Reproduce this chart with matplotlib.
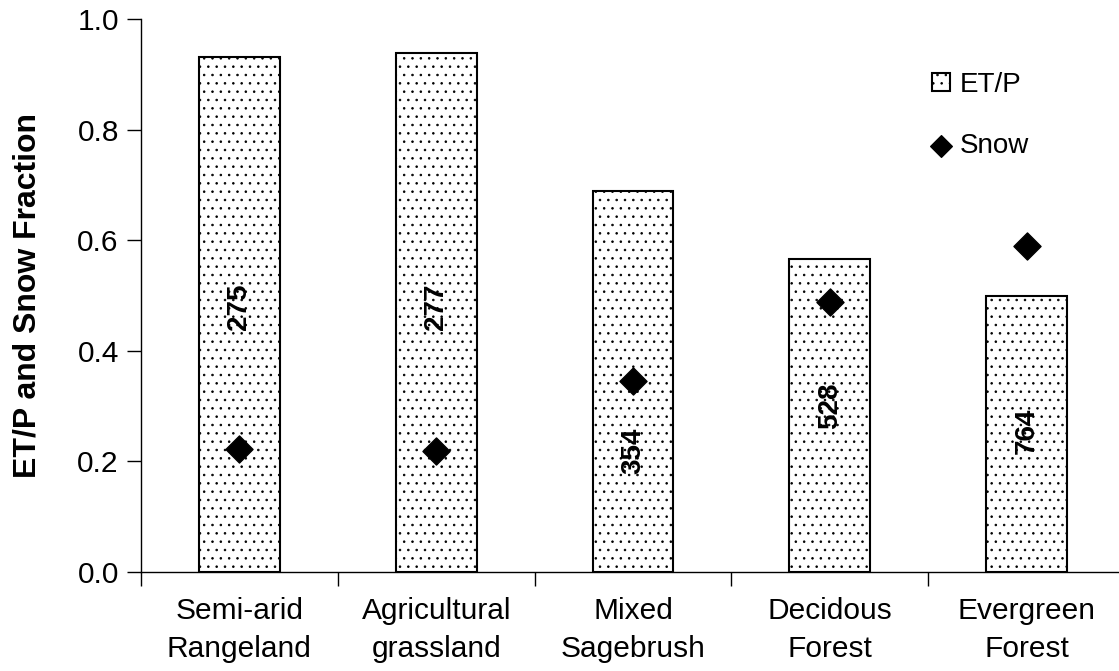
import matplotlib
matplotlib.use('Agg')
import matplotlib.pyplot as plt
import numpy as np

plt.rcParams['font.family'] = ['Liberation Sans', 'DejaVu Sans']
plt.rcParams['hatch.linewidth'] = 0.6

# data
categories = ['Semi-arid\nRangeland', 'Agricultural\ngrassland', 'Mixed\nSagebrush',
              'Decidous\nForest', 'Evergreen\nForest']
et_p = [0.932, 0.939, 0.690, 0.567, 0.500]
snow = [0.222, 0.219, 0.345, 0.488, 0.589]
precip_labels = ['275', '277', '354', '528', '764']
label_y = [0.48, 0.48, 0.22, 0.30, 0.255]

x = np.arange(len(categories))

fig = plt.figure(figsize=(11.19, 6.71), dpi=100)
# the right end of the x axis runs past the picture edge, as in the original
ax = fig.add_axes([0.126, 0.1475, 0.8794, 0.824])

bars = ax.bar(x, et_p, width=0.41, color='white', edgecolor='black', linewidth=1.5,
              hatch='..', label='ET/P', zorder=2)
pts = ax.scatter(x, snow, marker='D', s=190, color='black', label='Snow', zorder=3)

for xi, txt, yi in zip(x, precip_labels, label_y):
    ax.text(xi, yi, txt, rotation=90, ha='center', va='center',
            fontsize=20, fontweight='bold', zorder=4)

ax.set_xlim(-0.5, 4.5)
ax.set_ylim(0, 1.0)
ax.set_yticks(np.arange(0, 1.01, 0.2))
ax.set_yticklabels([f'{v:.1f}' for v in np.arange(0, 1.01, 0.2)])
ax.set_xticks(np.arange(-0.5, 4.6, 1.0))
ax.set_xticklabels([])
ax.set_xticks(x, minor=True)
ax.set_xticklabels(categories, minor=True, fontsize=21.5, linespacing=1.45)
ax.tick_params(axis='x', which='minor', length=0, pad=18)
ax.tick_params(axis='x', which='major', length=10, width=1)
ax.tick_params(axis='y', length=10, width=1, labelsize=21.5, pad=6)

ax.spines['top'].set_visible(False)
ax.spines['right'].set_visible(False)
ax.spines['left'].set_linewidth(1)
ax.spines['bottom'].set_linewidth(1)

ax.set_ylabel('ET/P and Snow Fraction', fontsize=23, fontweight='bold', labelpad=25)

ax.legend([bars, pts], ['ET/P', 'Snow'], loc='upper left', bbox_to_anchor=(0.804, 0.905),
          frameon=False, fontsize=20, borderpad=0, borderaxespad=0,
          handlelength=0.65, handleheight=0.65, handletextpad=0.36,
          labelspacing=1.27, markerscale=0.8)

fig.savefig('out.png', dpi=100)
